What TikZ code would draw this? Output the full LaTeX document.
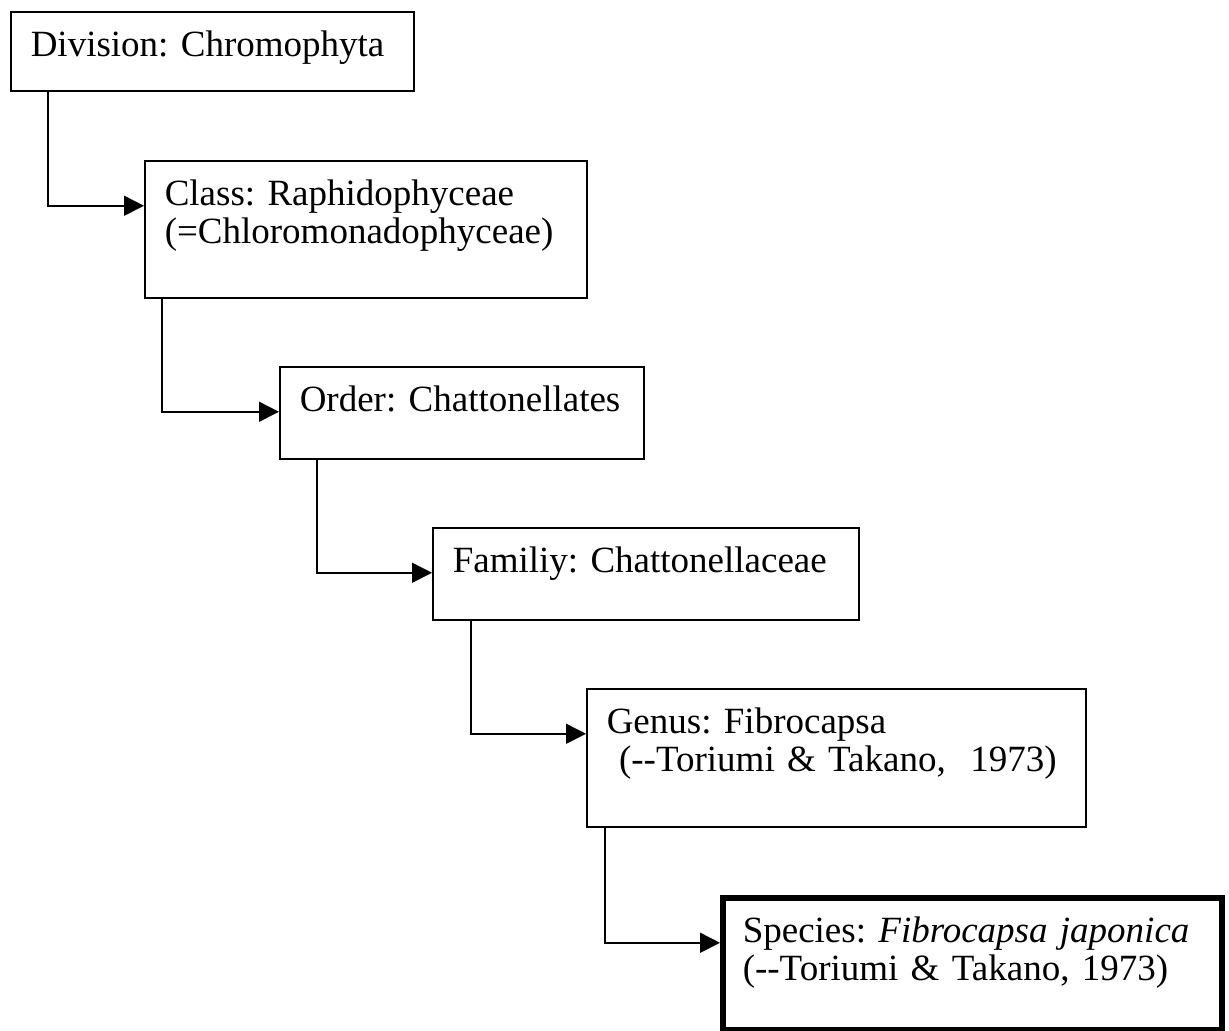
\documentclass[tikz,border=0pt]{standalone}
\usepackage{fontspec}
\setmainfont{Liberation Serif}
\usetikzlibrary{arrows.meta}
\frenchspacing
\newcommand{\taxonfont}{\fontsize{18.5pt}{19pt}\selectfont\hyphenpenalty=10000\relax}

\begin{document}
\begin{tikzpicture}[x=0.5pt, y=0.5pt, line width=0.75pt,
    box/.style={draw, anchor=north west, align=left, inner xsep=10pt, inner ysep=0pt,
      text height=22.5pt, font=\taxonfont},
    link/.style={-{Triangle[length=10pt,width=10pt]}}]
                \useasboundingbox (0,0) rectangle (1229,-1030);
                \node (T1) [box, text width=181.5pt, text depth=17pt] at (10,-11)
                {Division: Chromophyta};
                \node (T2) [box, text width=201pt, text depth=46pt] at (144,-160)
                {Class: Raphidophyceae\\(=Chloromonadophyceae)};
                \node (T3) [box, text width=162pt, text depth=23.5pt] at (279,-366)
                {Order: Chattonellates};
                \node (T4) [box, text width=193pt, text depth=23.5pt] at (432,-527)
                {Familiy: Chattonellaceae};
                \node (T5) [box, text width=229.5pt, text depth=46.5pt] at (586,-688)
                {Genus: Fibrocapsa\\\mbox{}\ (-{}-Toriumi \& Takano,\ \ 1973)};
                \node (T6) [box, line width=2.75pt, text width=229.5pt, text depth=43.5pt] at (720,-895)
                {Species: \textit{Fibrocapsa japonica}\\(-{}-Toriumi \& Takano, 1973)};

                \draw[link] ([xshift=19pt]T1.south west) |- (T2.base west);
                \draw[link] ([xshift=9pt]T2.south west) |- (T3.base west);
                \draw[link] ([xshift=19pt]T3.south west) |- (T4.base west);
                \draw[link] ([xshift=19.5pt]T4.south west) |- (T5.base west);
                \draw[link] ([xshift=9.5pt]T5.south west) |- (T6.base west);
            \end{tikzpicture}
\end{document}
